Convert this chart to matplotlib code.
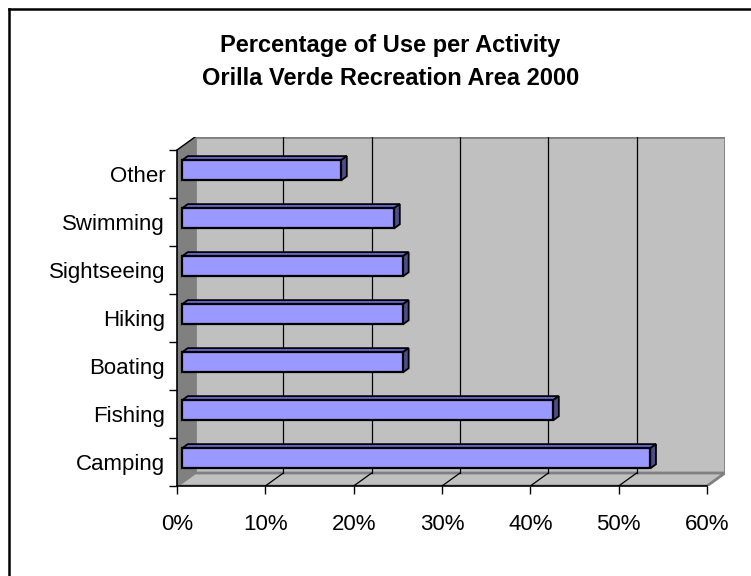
import matplotlib
matplotlib.use("Agg")
import matplotlib.pyplot as plt
from matplotlib.patches import Polygon
from matplotlib.lines import Line2D
import numpy as np

# ---- data ----
categories = ["Camping", "Fishing", "Boating", "Hiking", "Sightseeing", "Swimming", "Other"]
values = [53, 42, 25, 25, 25, 24, 18]
xticks = [0, 10, 20, 30, 40, 50, 60]
xtick_labels = ["0%", "10%", "20%", "30%", "40%", "50%", "60%"]
title = "Percentage of Use per Activity\nOrilla Verde Recreation Area 2000"

plt.rcParams['font.family'] = ['Liberation Sans', 'DejaVu Sans']

W, H = 751, 576
fig = plt.figure(figsize=(W / 100, H / 100), dpi=100)
fig.patch.set_facecolor("white")

# geometry (pixels) of the front plane and the depth offset
x0_px, x60_px = 177, 707
ytop_px, ybot_px = 150, 486
ddx_px, ddy_px = 18, 13

xmax = 60
n = len(categories)
px_per_x = (x60_px - x0_px) / xmax
px_per_y = (ybot_px - ytop_px) / n
dx = ddx_px / px_per_x
dy = ddy_px / px_per_y

ymin, ymax = -0.5, n - 0.5
ax_left = x0_px / W
ax_w = (x60_px + ddx_px - x0_px) / W
ax_bottom = (H - ybot_px) / H
ax_h = (ybot_px - (ytop_px - ddy_px)) / H
ax = fig.add_axes([ax_left, ax_bottom, ax_w, ax_h])
ax.set_xlim(0, xmax + dx)
ax.set_ylim(ymin, ymax + dy)
ax.patch.set_visible(False)

wall_c = "#C0C0C0"
side_wall_c = "#808080"
edge_gray = "#808080"

# back wall
ax.add_patch(Polygon([(dx, ymin + dy), (xmax + dx, ymin + dy), (xmax + dx, ymax + dy), (dx, ymax + dy)],
                     closed=True, facecolor=wall_c, edgecolor=edge_gray, lw=2, zorder=1))
# left wall
ax.add_patch(Polygon([(0, ymin), (dx, ymin + dy), (dx, ymax + dy), (0, ymax)],
                     closed=True, facecolor=side_wall_c, edgecolor="none", lw=0, zorder=1))
ax.add_line(Line2D([0, dx], [ymax, ymax + dy], color="black", lw=1, zorder=2))
# floor
ax.add_patch(Polygon([(0, ymin), (xmax, ymin), (xmax + dx, ymin + dy), (dx, ymin + dy)],
                     closed=True, facecolor=wall_c, edgecolor=edge_gray, lw=2, zorder=1.5))

# gridlines on back wall and floor
for v in xticks[1:-1]:
    ax.add_line(Line2D([v + dx, v + dx], [ymin + dy, ymax + dy], color="black", lw=0.9, zorder=2))
    ax.add_line(Line2D([v, v + dx], [ymin, ymin + dy], color="black", lw=0.9, zorder=2))

# bars
f0, f1 = 0.28, 0.60
h = 0.42
front_c = "#9999FF"
top_c = "#6666CC"
side_c = "#4D4D88"
for i, v in enumerate(values):
    yb = i - h / 2
    yt = i + h / 2
    top = [(f0 * dx, yt + f0 * dy), (v + f0 * dx, yt + f0 * dy), (v + f1 * dx, yt + f1 * dy), (f1 * dx, yt + f1 * dy)]
    side = [(v + f0 * dx, yb + f0 * dy), (v + f1 * dx, yb + f1 * dy), (v + f1 * dx, yt + f1 * dy), (v + f0 * dx, yt + f0 * dy)]
    front = [(f0 * dx, yb + f0 * dy), (v + f0 * dx, yb + f0 * dy), (v + f0 * dx, yt + f0 * dy), (f0 * dx, yt + f0 * dy)]
    ax.add_patch(Polygon(top, closed=True, facecolor=top_c, edgecolor="black", lw=1.3, zorder=3))
    ax.add_patch(Polygon(side, closed=True, facecolor=side_c, edgecolor="black", lw=1.3, zorder=3))
    ax.add_patch(Polygon(front, closed=True, facecolor=front_c, edgecolor="black", lw=1.6, zorder=3))

# axes: spines
for s in ["top", "right"]:
    ax.spines[s].set_visible(False)
ax.spines["bottom"].set_bounds(0, xmax)
ax.spines["left"].set_bounds(ymin, ymax)
ax.spines["bottom"].set_zorder(4)
ax.spines["left"].set_zorder(4)
ax.spines["bottom"].set_linewidth(1.2)
ax.spines["left"].set_linewidth(1.2)

fs = 16
ax.set_xticks(xticks)
ax.set_xticklabels(xtick_labels, fontsize=fs)
ax.tick_params(axis="x", direction="out", length=5.5, width=1, pad=15, color="black")

ax.set_yticks(np.arange(ymin, ymax + 0.01, 1.0))
ax.set_yticklabels([])
ax.set_yticks(np.arange(n), minor=True)
ax.set_yticklabels(categories, minor=True, fontsize=fs)
ax.tick_params(axis="y", which="major", direction="out", length=5.5, width=1)
ax.tick_params(axis="y", which="minor", length=0, pad=8.5)

# title
fig.text(0.52, 1 - 62 / H, title, ha="center", va="center", fontsize=17,
         fontweight="bold", linespacing=1.6)

# chart frame (continues beyond right/bottom edges)
fig.add_artist(Line2D([9 / W, 1.0], [1 - 9 / H, 1 - 9 / H], transform=fig.transFigure, color="black", lw=1.8))
fig.add_artist(Line2D([9 / W, 9 / W], [0, 1 - 9 / H], transform=fig.transFigure, color="black", lw=1.8))

fig.savefig("out.png", dpi=100, facecolor="white")
